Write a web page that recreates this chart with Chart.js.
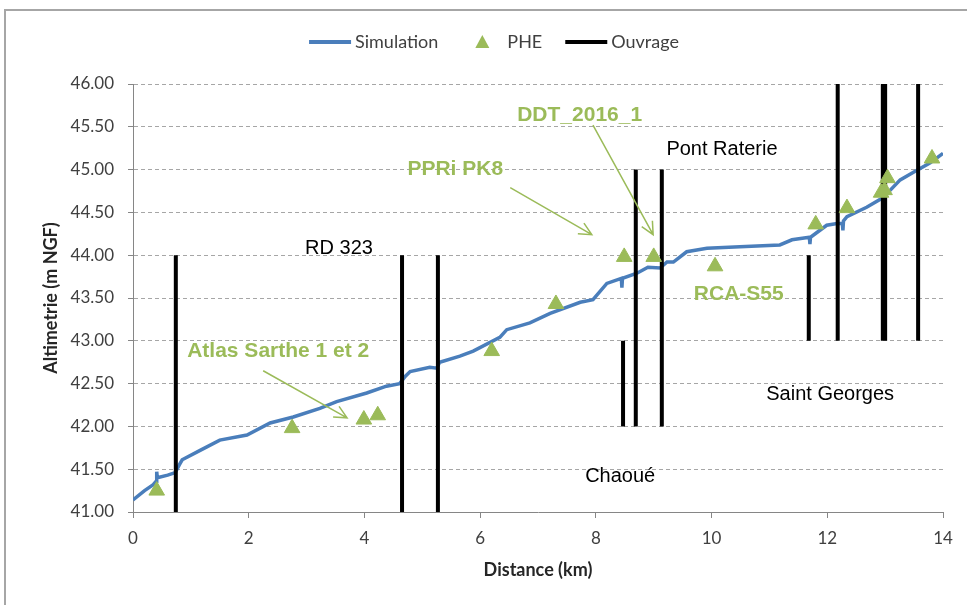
<!DOCTYPE html>
<html>
<head>
<meta charset="utf-8">
<script src="https://cdn.jsdelivr.net/npm/chart.js@4"></script>
<style>
  html, body { margin: 0; padding: 0; background: #fff; }
</style>
</head>
<body>
<canvas id="myChart" width="967" height="605"></canvas>
<script>
// Simulation (ligne d'eau)
const simDist = [0, 0.2, 0.35, 0.40, 0.41, 0.42, 0.6, 0.73, 0.80, 0.85,
    1.16, 1.5, 1.97, 2.37, 2.77, 3.23, 3.52, 4.04, 4.38, 4.61,
    4.70, 4.79, 5.13, 5.25, 5.30, 5.65, 5.88, 6.34, 6.46, 6.86,
    7.21, 7.73, 7.95, 8.19, 8.44, 8.45, 8.46, 8.71, 8.90, 9.11,
    9.23, 9.34, 9.57, 9.92, 10.49, 11.18, 11.39, 11.69, 11.70, 11.71,
    11.99, 12.17, 12.26, 12.27, 12.28, 12.34, 12.68, 12.96, 13.26, 13.49,
    13.78, 14.0];
const simAlt = [41.14, 41.25, 41.32, 41.36, 41.47, 41.40, 41.43, 41.46, 41.55, 41.61,
    41.72, 41.84, 41.90, 42.04, 42.11, 42.21, 42.29, 42.39, 42.47, 42.50,
    42.58, 42.64, 42.69, 42.68, 42.75, 42.82, 42.88, 43.04, 43.13, 43.21,
    43.32, 43.45, 43.48, 43.67, 43.73, 43.62, 43.73, 43.79, 43.86, 43.85,
    43.92, 43.92, 44.04, 44.08, 44.10, 44.12, 44.18, 44.21, 44.13, 44.21,
    44.35, 44.37, 44.37, 44.29, 44.40, 44.45, 44.56, 44.67, 44.88, 44.97,
    45.08, 45.19];

// PHE (plus hautes eaux)
const pheDist = [0.41, 2.75, 3.99, 4.23, 6.20, 7.31, 8.49, 9.00, 10.06, 11.80, 12.34, 12.93, 12.99, 13.04, 13.81];
const pheAlt = [41.25, 41.98, 42.08, 42.13, 42.88, 43.43, 43.98, 43.98, 43.87, 44.36, 44.55, 44.73, 44.76, 44.90, 45.13];

// Ouvrages (segments verticaux)
const ouvDist = [0.74, 4.65, 5.27, 8.47, 8.69, 9.14, 11.68, 12.18, 12.96, 13.00, 13.57];
const ouvBas = [41, 41, 41, 42, 42, 42, 43, 43, 43, 43, 43];
const ouvHaut = [44, 44, 44, 43, 45, 45, 44, 46, 46, 46, 46];

// annotations : texte, distance, altitude
const notesNoir = [
    ['RD 323', 3.56, 44.08],
    ['Pont Raterie', 10.18, 45.24],
    ['Saint Georges', 12.05, 42.37],
    ['Chaoué', 8.42, 41.42]
];
const notesVert = [
    ['Atlas Sarthe 1 et 2', 2.51, 42.88],
    ['PPRi PK8', 5.57, 45.0],
    ['DDT_2016_1', 7.72, 45.64],
    ['RCA-S55', 10.47, 43.55]
];
const fleches = [
    [2.25, 42.65, 3.70, 42.10],
    [6.52, 44.79, 7.93, 44.24],
    [7.95, 45.52, 8.99, 44.24]
];

const vert = '#9bbb59';
const bleu = '#4a7ebb';

const simData = simDist.map((d, i) => ({x: d, y: simAlt[i]}));
const pheData = pheDist.map((d, i) => ({x: d, y: pheAlt[i]}));
const ouvData = [];
ouvDist.forEach((d, i) => {
    ouvData.push({x: d, y: ouvBas[i]}, {x: d, y: ouvHaut[i]}, {x: d, y: null});
});

const cadre = {
    id: 'cadre',
    beforeDraw(chart) {
        const c = chart.ctx;
        c.save();
        c.fillStyle = '#fff';
        c.fillRect(0, 0, chart.width, chart.height);
        c.strokeStyle = '#a6a6a6';
        c.lineWidth = 2;
        c.strokeRect(5, 10, chart.width + 20, chart.height + 20);
        c.restore();
    }
};

const legende = {
    id: 'legende',
    afterDraw(chart) {
        const c = chart.ctx;
        const items = [
            {text: 'Simulation', type: 'line', color: bleu},
            {text: 'PHE', type: 'tri', color: vert},
            {text: 'Ouvrage', type: 'line', color: '#000'}
        ];
        c.save();
        c.font = '18px Lato';
        c.textBaseline = 'middle';
        const box = 42, gap = 4, sep = 23, y = 42;
        let total = 0;
        items.forEach(it => { it.w = c.measureText(it.text).width; total += box + gap + it.w; });
        total += sep * (items.length - 1);
        let x = 494 - total / 2;
        items.forEach(it => {
            if (it.type === 'line') {
                c.strokeStyle = it.color;
                c.lineWidth = 4;
                c.beginPath();
                c.moveTo(x, y);
                c.lineTo(x + box, y);
                c.stroke();
            } else {
                const cx = x + box / 2;
                c.fillStyle = it.color;
                c.beginPath();
                c.moveTo(cx, y - 7);
                c.lineTo(cx + 7, y + 6);
                c.lineTo(cx - 7, y + 6);
                c.closePath();
                c.fill();
            }
            c.fillStyle = '#404040';
            c.fillText(it.text, x + box + gap, y);
            x += box + gap + it.w + sep;
        });
        c.restore();
    }
};

const notes = {
    id: 'notes',
    afterDatasetsDraw(chart) {
        const c = chart.ctx;
        const sx = chart.scales.x, sy = chart.scales.y;
        c.save();
        c.textAlign = 'center';
        c.textBaseline = 'middle';
        c.font = '20px "Liberation Sans"';
        c.fillStyle = '#000';
        notesNoir.forEach(n => c.fillText(n[0], sx.getPixelForValue(n[1]), sy.getPixelForValue(n[2])));
        c.font = 'bold 21px "Liberation Sans"';
        c.fillStyle = vert;
        notesVert.forEach(n => c.fillText(n[0], sx.getPixelForValue(n[1]), sy.getPixelForValue(n[2])));
        c.strokeStyle = vert;
        c.lineWidth = 1.5;
        fleches.forEach(f => {
            const x1 = sx.getPixelForValue(f[0]), y1 = sy.getPixelForValue(f[1]);
            const x2 = sx.getPixelForValue(f[2]), y2 = sy.getPixelForValue(f[3]);
            const a = Math.atan2(y2 - y1, x2 - x1);
            c.beginPath();
            c.moveTo(x1, y1);
            c.lineTo(x2, y2);
            c.moveTo(x2 - 14 * Math.cos(a - 0.45), y2 - 14 * Math.sin(a - 0.45));
            c.lineTo(x2, y2);
            c.lineTo(x2 - 14 * Math.cos(a + 0.45), y2 - 14 * Math.sin(a + 0.45));
            c.stroke();
        });
        c.restore();
    }
};

const ctx = document.getElementById('myChart').getContext('2d');
const myChart = new Chart(ctx, {
    type: 'scatter',
    data: {
        datasets: [{
            label: 'Simulation',
            data: simData,
            showLine: true,
            borderColor: bleu,
            borderWidth: 3.5,
            pointRadius: 0,
            tension: 0,
            order: 2
        }, {
            label: 'PHE',
            data: pheData,
            pointStyle: 'triangle',
            pointRadius: 9,
            backgroundColor: vert,
            borderColor: vert,
            borderWidth: 1,
            order: 0
        }, {
            label: 'Ouvrage',
            data: ouvData,
            showLine: true,
            spanGaps: false,
            borderColor: '#000',
            borderWidth: 4,
            pointRadius: 0,
            order: 1
        }]
    },
    options: {
        responsive: false,
        animation: false,
        devicePixelRatio: 1,
        layout: {
            padding: {left: 36, top: 84, right: 24, bottom: 20}
        },
        plugins: {
            legend: {display: false},
            tooltip: {enabled: false}
        },
        scales: {
            x: {
                type: 'linear',
                min: 0,
                max: 14,
                afterFit: s => { s.height = 73; },
                ticks: {
                    stepSize: 2,
                    color: '#404040',
                    font: {family: 'Lato', size: 17},
                    padding: 10
                },
                grid: {
                    drawOnChartArea: false,
                    tickLength: 6,
                    color: '#868686'
                },
                border: {color: '#868686'},
                title: {
                    display: true,
                    text: 'Distance (km)',
                    color: '#262626',
                    font: {family: 'Lato', size: 18, weight: 'bold'},
                    padding: {top: 4, bottom: 4}
                }
            },
            y: {
                min: 41,
                max: 46,
                afterFit: s => { s.width = 97; },
                ticks: {
                    stepSize: 0.5,
                    color: '#404040',
                    font: {family: 'Lato', size: 17},
                    padding: 14,
                    callback: v => v.toFixed(2)
                },
                grid: {
                    color: '#a6a6a6',
                    tickLength: 5,
                    tickColor: '#868686',
                    tickBorderDash: []
                },
                border: {color: '#868686', dash: [4, 3]},
                title: {
                    display: true,
                    text: 'Altimetrie (m NGF)',
                    color: '#262626',
                    font: {family: 'Lato', size: 18, weight: 'bold'},
                    padding: {top: 4, bottom: 4}
                }
            }
        }
    },
    plugins: [cadre, legende, notes]
});
</script>
</body>
</html>
